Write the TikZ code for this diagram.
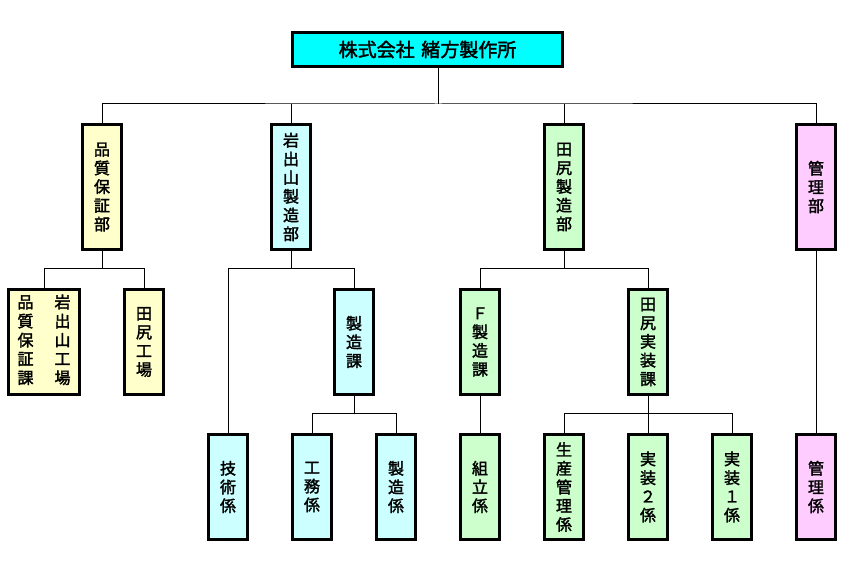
\documentclass[tikz,border=0pt]{standalone}
\usepackage{fontspec}
\newfontfamily\jp{Noto Sans CJK JP}[FakeBold=2]
\definecolor{ylw}{HTML}{FFFFCC}
\definecolor{cyn}{HTML}{CCFFFF}
\definecolor{grn}{HTML}{CCFFCC}
\definecolor{pnk}{HTML}{FFCCFF}
\definecolor{topc}{HTML}{00FFFF}
\tikzset{
  unit/.style={draw=black, line width=2.6pt, minimum width=39.5pt, inner sep=0pt,
    align=center, font=\jp\fontsize{16pt}{18.7pt}\selectfont},
  lvA/.style={unit, minimum height=125.3pt},
  lvB/.style={unit, minimum height=105.3pt},
  conn/.style={draw=black, line width=1pt},
}
\begin{document}
\begin{tikzpicture}[x=1pt, y=-1pt]
\useasboundingbox (0,0) rectangle (855,569);
% top
\node[draw=black, line width=2.6pt, fill=topc, minimum width=270.3pt, minimum height=34.3pt,
  inner sep=0pt, font=\jp\fontsize{19pt}{22pt}\selectfont] (top) at (427.5,49.5) {株式会社\hspace{0.35em}緒方製作所};
% level 1
\node[lvA, fill=ylw] (qa) at (102,187) {品\\質\\保\\証\\部};
\node[lvA, fill=cyn] (iw) at (291,187) {岩\\出\\山\\製\\造\\部};
\node[lvA, fill=grn] (ta) at (564,187) {田\\尻\\製\\造\\部};
\node[lvA, fill=pnk] (mg) at (816,187) {管\\理\\部};
% level 2
\node[lvB, fill=ylw, minimum width=71.3pt] (qa2) at (44,342) {%
  \begin{tabular}{@{}c@{\hspace{21pt}}c@{}}品&岩\\質&出\\保&山\\証&工\\課&場\end{tabular}};
\node[lvB, fill=ylw] (tk) at (144,342) {田\\尻\\工\\場};
\node[lvB, fill=cyn] (sk) at (354,342) {製\\造\\課};
\node[lvB, fill=grn] (fs) at (480,342) {Ｆ\\製\\造\\課};
\node[lvB, fill=grn] (tj) at (648,342) {田\\尻\\実\\装\\課};
% level 3
\node[lvB, fill=cyn] (gj) at (228,487) {技\\術\\係};
\node[lvB, fill=cyn] (km) at (312,487) {工\\務\\係};
\node[lvB, fill=cyn] (sz) at (396,487) {製\\造\\係};
\node[lvB, fill=grn] (kb) at (480,487) {組\\立\\係};
\node[lvB, fill=grn] (ss) at (564,487) {生\\産\\管\\理\\係};
\node[lvB, fill=grn] (j2) at (648,487) {実\\装\\２\\係};
\node[lvB, fill=grn] (j1) at (732,487) {実\\装\\１\\係};
\node[lvB, fill=pnk] (kk) at (816,487) {管\\理\\係};
% junctions
\coordinate (b0) at (438,104);
\path (qa.south) ++(0,18) coordinate (qaj);
\path (iw.south) ++(0,18) coordinate (iwj);
\path (ta.south) ++(0,18) coordinate (taj);
\path (sk.south) ++(0,18) coordinate (skj);
\path (tj.south) ++(0,18) coordinate (tjj);
% connectors
\draw[conn] (b0 |- top.south) -- (b0);
\draw[conn] (qa.north) |- (b0) -| (mg.north);
\draw[conn] (iw.north) -- (iw.north |- b0);
\draw[conn] (ta.north) -- (ta.north |- b0);
\draw[conn] (qa.south) -- (qaj);
\draw[conn] (qa2.north) |- (qaj) -| (tk.north);
\draw[conn] (iw.south) -- (iwj);
\draw[conn] (gj.north) |- (iwj) -| (sk.north);
\draw[conn] (sk.south) -- (skj);
\draw[conn] (km.north) |- (skj) -| (sz.north);
\draw[conn] (ta.south) -- (taj);
\draw[conn] (fs.north) |- (taj) -| (tj.north);
\draw[conn] (fs.south) -- (kb.north);
\draw[conn] (tj.south) -- (tjj);
\draw[conn] (ss.north) |- (tjj) -| (j1.north);
\draw[conn] (tjj) -- (j2.north);
\draw[conn] (mg.south) -- (kk.north);
\end{tikzpicture}
\end{document}
